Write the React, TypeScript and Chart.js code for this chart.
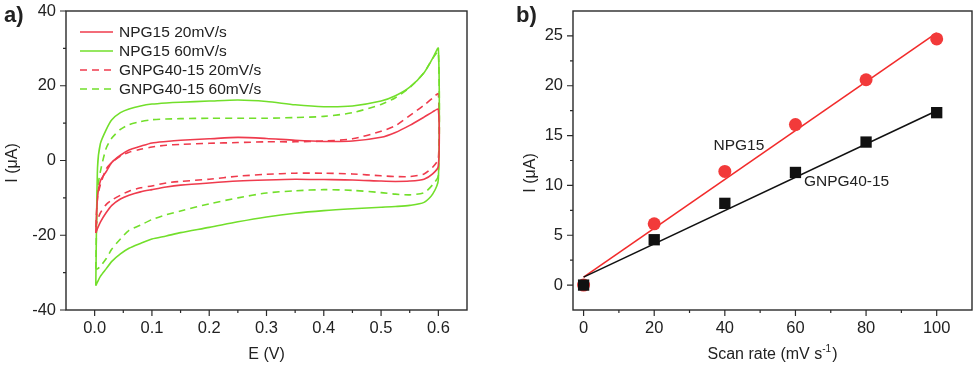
import React, { useEffect, useRef } from 'react';
import { Chart, registerables } from 'chart.js';

Chart.register(...registerables);

const FONT = 'Liberation Sans, Arial, Helvetica, sans-serif';
const TXT = '#222222';

// ---------- Panel a: cyclic voltammograms ----------
const cvPotential = [0.002, 0.005, 0.01, 0.02, 0.03, 0.045, 0.06, 0.08, 0.1, 0.125, 0.15, 0.2, 0.25, 0.3, 0.35, 0.4, 0.45, 0.5, 0.525, 0.55, 0.575, 0.59, 0.6];

// anodic (forward) and cathodic (reverse) currents, both listed in ascending potential order
const npg15At20Fwd = [-19.4, -10, -5.5, -3, -0.5, 1.4, 2.8, 3.8, 4.7, 5.1, 5.4, 5.8, 6.2, 5.9, 5.4, 5.1, 5.2, 6.2, 7.5, 9.4, 11.6, 13, 13.7];
const npg15At20Rev = [-19.4, -18.2, -16.5, -14, -12, -10.3, -9.3, -8.4, -7.8, -7.1, -6.6, -6, -5.5, -5.2, -5, -5.1, -5.2, -5.5, -5.6, -5.5, -5, -3.6, -1.5];
const npg15At60Fwd = [-33.5, -2, 4.5, 8.2, 10.9, 12.8, 13.8, 14.6, 15.1, 15.4, 15.6, 15.9, 16.2, 15.8, 14.9, 14.4, 14.6, 15.9, 17.3, 19.6, 23.5, 27.3, 30];
const npg15At60Rev = [-33.5, -32.5, -31, -29, -27, -25, -23.5, -22.2, -21, -20.2, -19.3, -17.9, -16.4, -15.1, -14.1, -13.4, -12.9, -12.5, -12.3, -12, -11.2, -9, -5];
const gnpgAt20Fwd = [-17.8, -10, -6.5, -2.3, -0.5, 1.2, 2.2, 3, 3.6, 4.1, 4.3, 4.6, 4.8, 5, 5, 5.2, 5.8, 7.8, 9.3, 12, 14.8, 16.7, 17.8];
const gnpgAt20Rev = [-17.8, -16, -14, -11.8, -10.6, -9.3, -8.2, -7.3, -6.8, -6, -5.6, -5, -4.2, -3.7, -3.4, -3.4, -3.6, -4.1, -4.3, -4.3, -3.6, -1.8, 0.5];
const gnpgAt60Fwd = [-29, -8, -3, 3.2, 6, 8.3, 9.6, 10.4, 10.9, 11.1, 11.2, 11.3, 11.3, 11.3, 11.5, 11.8, 12.8, 15, 16.8, 19.5, 23.5, 27.3, 29];
const gnpgAt60Rev = [-29, -29, -28.3, -26.3, -23.7, -21, -18.7, -17.3, -15.8, -14.5, -13.5, -11.6, -10, -8.7, -8.1, -7.8, -8, -8.6, -9, -9.2, -8.6, -6.5, -4];

const cvLabels = ['NPG15 20mV/s', 'NPG15 60mV/s', 'GNPG40-15 20mV/s', 'GNPG40-15 60mV/s'];

const eMajorTicks = [0, 0.1, 0.2, 0.3, 0.4, 0.5, 0.6];
const eMinorTicks = [0.05, 0.15, 0.25, 0.35, 0.45, 0.55];
const iMajorTicksA = [-40, -20, 0, 20, 40];
const iMinorTicksA = [-30, -10, 10, 30];

// ---------- Panel b: current vs scan rate ----------
const scanRates = [0, 20, 40, 60, 80, 100];
const npg15Current = [0, 6.15, 11.4, 16.1, 20.6, 24.7];
const gnpgCurrent = [0, 4.55, 8.2, 11.3, 14.35, 17.3];
const fitRates = [0, 100];
const npg15Fit = [0.8, 25.3];
const gnpgFit = [0.8, 17.5];

const rateMajorTicks = [0, 20, 40, 60, 80, 100];
const rateMinorTicks = [10, 30, 50, 70, 90];
const iMajorTicksB = [0, 5, 10, 15, 20, 25];
const iMinorTicksB = [2.5, 7.5, 12.5, 17.5, 22.5];

const RED_A = '#ef3b4d';
const GREEN_A = '#72df2b';
const RED_B = '#f22b2b';
const BLACK_B = '#111111';

function loop(fwd: number[], rev: number[]) {
  const pts = cvPotential.map((e, i) => ({ x: e, y: fwd[i] }));
  for (let i = cvPotential.length - 1; i >= 0; i--) pts.push({ x: cvPotential[i], y: rev[i] });
  return pts;
}

function pairs(xs: number[], ys: number[]) {
  return xs.map((x, i) => ({ x, y: ys[i] }));
}

const decorPlugin = {
  id: 'decor',
  afterDraw(chart: any, _args: any, opts: any) {
    const { ctx, chartArea, scales } = chart;
    const { left, right, top, bottom } = chartArea;
    const xs = scales.x;
    const ys = scales.y;
    ctx.save();
    // frame
    ctx.strokeStyle = '#2a2a2a';
    ctx.lineWidth = 1.4;
    ctx.strokeRect(left, top, right - left, bottom - top);
    // ticks
    ctx.lineWidth = 1.2;
    ctx.beginPath();
    const tick = (vals: number[], len: number, horiz: boolean) => {
      for (const v of vals) {
        if (horiz) {
          const p = xs.getPixelForValue(v);
          ctx.moveTo(p, bottom);
          ctx.lineTo(p, bottom + len);
        } else {
          const p = ys.getPixelForValue(v);
          ctx.moveTo(left, p);
          ctx.lineTo(left - len, p);
        }
      }
    };
    tick(opts.xMajor, 6, true);
    tick(opts.xMinor, 3, true);
    tick(opts.yMajor, 6, false);
    tick(opts.yMinor, 3, false);
    ctx.stroke();

    ctx.fillStyle = TXT;
    // panel letter
    ctx.font = `bold 22px ${FONT}`;
    ctx.textAlign = 'left';
    ctx.textBaseline = 'middle';
    ctx.fillText(opts.letter, opts.letterX, 16);

    // x title
    ctx.font = `16px ${FONT}`;
    const cx = (left + right) / 2;
    const ty = 355;
    if (opts.xSup) {
      const mainW = ctx.measureText(opts.xTitle).width;
      ctx.font = `10px ${FONT}`;
      const supW = ctx.measureText(opts.xSup).width;
      ctx.font = `16px ${FONT}`;
      const endW = ctx.measureText(opts.xTitleEnd).width;
      let x0 = cx - (mainW + supW + 1 + endW) / 2;
      ctx.fillText(opts.xTitle, x0, ty);
      x0 += mainW;
      ctx.font = `10px ${FONT}`;
      ctx.fillText(opts.xSup, x0, ty - 6);
      x0 += supW + 1;
      ctx.font = `16px ${FONT}`;
      ctx.fillText(opts.xTitleEnd, x0, ty);
    } else {
      ctx.textAlign = 'center';
      ctx.fillText(opts.xTitle, cx, ty);
    }

    // y title
    ctx.save();
    ctx.translate(opts.yTitleX, opts.yTitleY);
    ctx.rotate(-Math.PI / 2);
    ctx.textAlign = 'center';
    ctx.textBaseline = 'middle';
    ctx.font = `16px ${FONT}`;
    ctx.fillText(opts.yTitle, 0, 0);
    ctx.restore();

    // in-plot legend
    if (opts.legend) {
      ctx.font = `15.5px ${FONT}`;
      ctx.textAlign = 'left';
      ctx.textBaseline = 'middle';
      chart.data.datasets.forEach((ds: any, i: number) => {
        const y = top + 21 + i * 19;
        ctx.save();
        ctx.strokeStyle = ds.borderColor;
        ctx.lineWidth = ds.borderWidth;
        ctx.setLineDash(ds.borderDash || []);
        ctx.beginPath();
        ctx.moveTo(left + 14, y);
        ctx.lineTo(left + 47, y);
        ctx.stroke();
        ctx.restore();
        ctx.fillStyle = TXT;
        ctx.fillText(ds.label, left + 53, y + 1);
      });
    }

    // annotations in data coordinates
    if (opts.notes) {
      ctx.font = `15.5px ${FONT}`;
      ctx.textAlign = 'left';
      ctx.textBaseline = 'middle';
      for (const n of opts.notes) {
        ctx.fillText(n.text, xs.getPixelForValue(n.x), ys.getPixelForValue(n.y));
      }
    }
    ctx.restore();
  },
};

function axis(min: number, max: number, major: number[], fmt: (v: number) => string, size: { w?: number; h?: number }, padding: number) {
  return {
    type: 'linear' as const,
    min,
    max,
    afterBuildTicks: (s: any) => {
      s.ticks = major.map((v) => ({ value: v }));
    },
    afterFit: (s: any) => {
      if (size.w !== undefined) s.width = size.w;
      if (size.h !== undefined) s.height = size.h;
      s.paddingTop = 0;
      s.paddingBottom = 0;
      s.paddingLeft = 0;
      s.paddingRight = 0;
    },
    grid: { display: false, drawTicks: false },
    border: { display: false },
    ticks: {
      autoSkip: false,
      maxRotation: 0,
      padding,
      color: TXT,
      font: { family: FONT, size: 16.5 },
      callback: (v: any) => fmt(Number(v)),
    },
  };
}

function PanelA() {
  const ref = useRef<HTMLCanvasElement>(null);
  useEffect(() => {
    const lineDs = (label: string, data: any[], color: string, dash: number[]) => ({
      label,
      data,
      borderColor: color,
      backgroundColor: color,
      borderWidth: 1.6,
      borderDash: dash,
      showLine: true,
      pointRadius: 0,
      tension: 0.25,
      fill: false,
    });
    const chart = new Chart(ref.current!, {
      type: 'scatter',
      data: {
        datasets: [
          lineDs(cvLabels[0], loop(npg15At20Fwd, npg15At20Rev), RED_A, []),
          lineDs(cvLabels[1], loop(npg15At60Fwd, npg15At60Rev), GREEN_A, []),
          lineDs(cvLabels[2], loop(gnpgAt20Fwd, gnpgAt20Rev), RED_A, [7, 5]),
          lineDs(cvLabels[3], loop(gnpgAt60Fwd, gnpgAt60Rev), GREEN_A, [7, 5]),
        ],
      },
      options: {
        responsive: false,
        animation: false,
        devicePixelRatio: 1,
        layout: { padding: { left: 0, right: 23, top: 11, bottom: 0 } },
        scales: {
          x: axis(-0.05, 0.65, eMajorTicks, (v) => v.toFixed(1), { h: 59 }, 9),
          y: axis(-40, 40, iMajorTicksA, (v) => String(v), { w: 66 }, 10),
        },
        plugins: {
          legend: { display: false },
          tooltip: { enabled: false },
          decor: {
            xMajor: eMajorTicks, xMinor: eMinorTicks, yMajor: iMajorTicksA, yMinor: iMinorTicksA,
            letter: 'a)', letterX: 4,
            xTitle: 'E (V)',
            yTitle: 'I (\u03bcA)', yTitleX: 13, yTitleY: 163,
            legend: true,
          },
        } as any,
      },
      plugins: [decorPlugin],
    });
    return () => chart.destroy();
  }, []);
  return <canvas ref={ref} width={490} height={369} style={{ position: 'absolute', left: 0, top: 0, width: 490, height: 369 }} />;
}

function PanelB() {
  const ref = useRef<HTMLCanvasElement>(null);
  useEffect(() => {
    const chart = new Chart(ref.current!, {
      type: 'scatter',
      data: {
        datasets: [
          {
            label: 'GNPG40-15',
            data: pairs(scanRates, gnpgCurrent),
            pointStyle: 'rect',
            pointRadius: 8,
            backgroundColor: BLACK_B,
            borderColor: BLACK_B,
            borderWidth: 0,
          },
          {
            label: 'NPG15',
            data: pairs(scanRates, npg15Current),
            pointStyle: 'circle',
            pointRadius: 6.5,
            backgroundColor: '#f23a3a',
            borderColor: '#f23a3a',
            borderWidth: 0,
          },
          {
            label: 'GNPG40-15 fit',
            data: pairs(fitRates, gnpgFit),
            showLine: true,
            pointRadius: 0,
            borderColor: BLACK_B,
            borderWidth: 1.6,
          },
          {
            label: 'NPG15 fit',
            data: pairs(fitRates, npg15Fit),
            showLine: true,
            pointRadius: 0,
            borderColor: RED_B,
            borderWidth: 1.6,
          },
        ],
      },
      options: {
        responsive: false,
        animation: false,
        devicePixelRatio: 1,
        layout: { padding: { left: 0, right: 6, top: 11, bottom: 0 } },
        scales: {
          x: axis(-3, 110, rateMajorTicks, (v) => String(v), { h: 59 }, 9),
          y: axis(-2.5, 27.5, iMajorTicksB, (v) => String(v), { w: 83 }, 10),
        },
        plugins: {
          legend: { display: false },
          tooltip: { enabled: false },
          decor: {
            xMajor: rateMajorTicks, xMinor: rateMinorTicks, yMajor: iMajorTicksB, yMinor: iMinorTicksB,
            letter: 'b)', letterX: 26,
            xTitle: 'Scan rate (mV s', xSup: '-1', xTitleEnd: ')',
            yTitle: 'I (\u03bcA)', yTitleX: 41, yTitleY: 173,
            notes: [
              { text: 'NPG15', x: 36.8, y: 14 },
              { text: 'GNPG40-15', x: 62.4, y: 10.4 },
            ],
          },
        } as any,
      },
      plugins: [decorPlugin],
    });
    return () => chart.destroy();
  }, []);
  return <canvas ref={ref} width={490} height={369} style={{ position: 'absolute', left: 490, top: 0, width: 490, height: 369 }} />;
}

export default function App() {
  return (
    <div style={{ position: 'fixed', left: 0, top: 0, width: 980, height: 369, background: '#ffffff', overflow: 'hidden' }}>
      <PanelA />
      <PanelB />
    </div>
  );
}
